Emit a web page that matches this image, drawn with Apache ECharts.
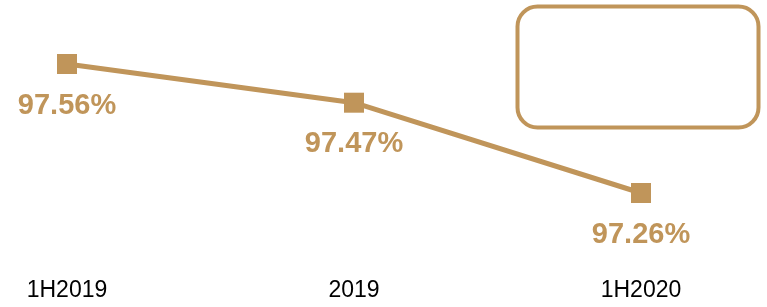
<!DOCTYPE html>
<html>
<head>
<meta charset="utf-8">
<script src="https://cdn.jsdelivr.net/npm/echarts@6/dist/echarts.min.js"></script>
<style>
  html,body{margin:0;padding:0;background:#fff}
  #main{width:767px;height:307px}
</style>
</head>
<body>
<div id="main"></div>
<script>
const categories = ['1H2019', '2019', '1H2020']
const rates = [97.56, 97.47, 97.26]
const gold = '#C0955A'

const myChart = echarts.init(document.getElementById('main'))
myChart.setOption({
  animation: false,
  grid: {
    left: 67,
    right: 126,
    top: 21,
    bottom: 45.2
  },
  xAxis: {
    type: 'category',
    data: categories,
    boundaryGap: false,
    axisLine: { show: false },
    axisTick: { show: false },
    axisLabel: {
      color: '#000',
      fontSize: 23,
      fontFamily: 'Liberation Sans, Arial, sans-serif',
      margin: 17
    }
  },
  yAxis: {
    type: 'value',
    min: 97.10,
    max: 97.66,
    show: false,
    splitLine: { show: false }
  },
  series: [
    {
      type: 'line',
      data: rates,
      symbol: 'rect',
      symbolSize: 20,
      lineStyle: { color: gold, width: 5 },
      itemStyle: { color: gold },
      label: {
        show: true,
        position: 'bottom',
        distance: 17,
        color: gold,
        fontSize: 29,
        fontWeight: 'bold',
        fontFamily: 'Liberation Sans, Arial, sans-serif',
        formatter: p => p.value.toFixed(2) + '%'
      }
    }
  ],
  // empty rounded box in the top right corner
  graphic: [
    {
      type: 'rect',
      left: 515,
      top: 4,
      shape: { width: 241, height: 121, r: 20 },
      style: { fill: 'none', stroke: gold, lineWidth: 4 }
    }
  ]
})
</script>
</body>
</html>
